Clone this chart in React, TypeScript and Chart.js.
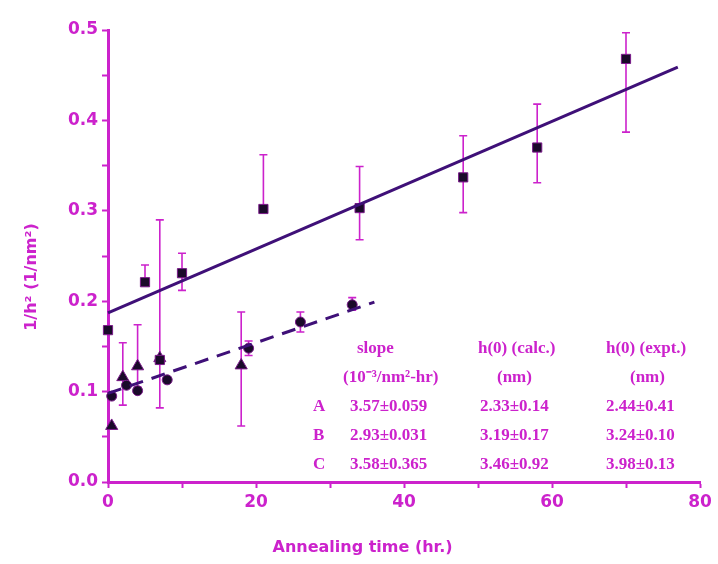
import React, { useEffect, useRef } from "react";
import { Chart, registerables } from "chart.js";

Chart.register(...registerables);

// ---- Data ----
// Series A (squares)
const aX = [0, 5, 7, 10, 21, 34, 48, 58, 70];
const aY = [0.168, 0.221, 0.135, 0.231, 0.302, 0.303, 0.337, 0.37, 0.468];
const aErrHigh = [0.168, 0.24, 0.29, 0.253, 0.362, 0.349, 0.383, 0.418, 0.497];
const aErrLow = [0.168, 0.221, 0.082, 0.212, 0.302, 0.268, 0.298, 0.331, 0.387];

// Series B (circles)
const bX = [0.5, 2.5, 4, 8, 19, 26, 33];
const bY = [0.095, 0.107, 0.101, 0.113, 0.148, 0.177, 0.196];
const bErrHigh = [0.095, 0.107, 0.101, 0.113, 0.156, 0.188, 0.204];
const bErrLow = [0.095, 0.107, 0.101, 0.113, 0.14, 0.166, 0.19];

// Series C (triangles)
const cX = [0.5, 2, 4, 7, 18];
const cY = [0.062, 0.116, 0.128, 0.137, 0.129];
const cErrHigh = [0.062, 0.154, 0.174, 0.137, 0.188];
const cErrLow = [0.062, 0.085, 0.105, 0.137, 0.062];

// Fit lines
const fitAX = [0, 77];
const fitAY = [0.187, 0.459];
const fitBX = [0, 36];
const fitBY = [0.098, 0.199];

// Axis ticks
const xTickLabels = [0, 20, 40, 60, 80];
const yTickLabels = ["0.0", "0.1", "0.2", "0.3", "0.4", "0.5"];

// Table text
const tableHeaders = ["slope", "h(0) (calc.)", "h(0) (expt.)"];
const tableUnits = ["(10\u207B\u00B3/nm\u00B2-hr)", "(nm)", "(nm)"];
const rowLabels = ["A", "B", "C"];
const slopeVals = ["3.57\u00B10.059", "2.93\u00B10.031", "3.58\u00B10.365"];
const hCalcVals = ["2.33\u00B10.14", "3.19\u00B10.17", "3.46\u00B10.92"];
const hExptVals = ["2.44\u00B10.41", "3.24\u00B10.10", "3.98\u00B10.13"];

const xTitle = "Annealing time (hr.)";
const yTitle = "1/h\u00B2 (1/nm\u00B2)";

const MAGENTA = "#cc22cc";
const DARK = "#1a0a2a";
const LINE = "#3f1078";
const SANS = '"DejaVu Sans", "Liberation Sans", Arial, sans-serif';

const toPts = (xs: number[], ys: number[]) => xs.map((x, i) => ({ x, y: ys[i] }));

const errorSets: Record<number, { lo: number[]; hi: number[]; xs: number[] }> = {
  2: { xs: aX, lo: aErrLow, hi: aErrHigh },
  3: { xs: bX, lo: bErrLow, hi: bErrHigh },
  4: { xs: cX, lo: cErrLow, hi: cErrHigh },
};

const errorBarPlugin = {
  id: "errorBars",
  beforeDatasetsDraw(chart: any) {
    const ctx = chart.ctx;
    const xs = chart.scales.x;
    const ys = chart.scales.y;
    ctx.save();
    ctx.strokeStyle = MAGENTA;
    ctx.lineWidth = 1.6;
    Object.keys(errorSets).forEach((k) => {
      const e = errorSets[+k];
      e.xs.forEach((xv, i) => {
        if (e.hi[i] === e.lo[i]) return;
        const px = xs.getPixelForValue(xv);
        const top = ys.getPixelForValue(e.hi[i]);
        const bot = ys.getPixelForValue(e.lo[i]);
        ctx.beginPath();
        ctx.moveTo(px, top);
        ctx.lineTo(px, bot);
        ctx.moveTo(px - 4, top);
        ctx.lineTo(px + 4, top);
        ctx.moveTo(px - 4, bot);
        ctx.lineTo(px + 4, bot);
        ctx.stroke();
      });
    });
    ctx.restore();
  },
};

const textPlugin = {
  id: "texts",
  afterDraw(chart: any) {
    const ctx = chart.ctx;
    const a = chart.chartArea;
    ctx.save();
    ctx.fillStyle = MAGENTA;
    // axis titles
    ctx.font = "bold 16px " + SANS;
    ctx.textAlign = "center";
    ctx.textBaseline = "middle";
    ctx.fillText(xTitle, a.left + (a.right - a.left) * 0.43, 548);
    ctx.save();
    ctx.translate(32, 277);
    ctx.rotate(-Math.PI / 2);
    ctx.fillText(yTitle, 0, 0);
    ctx.restore();

    // table
    ctx.font = 'bold 17px "Liberation Serif", "Times New Roman", serif';
    ctx.textAlign = "left";
    const colX = [357, 478, 606];
    const unitX = [343, 497, 630];
    tableHeaders.forEach((t, i) => ctx.fillText(t, colX[i], 349));
    tableUnits.forEach((t, i) => ctx.fillText(t, unitX[i], 378));
    const rowY = [407, 436, 465];
    rowLabels.forEach((t, i) => {
      ctx.fillText(t, 313, rowY[i]);
      ctx.fillText(slopeVals[i], 350, rowY[i]);
      ctx.fillText(hCalcVals[i], 480, rowY[i]);
      ctx.fillText(hExptVals[i], 606, rowY[i]);
    });
    ctx.restore();
  },
};

export default function App() {
  const ref = useRef<HTMLCanvasElement | null>(null);
  useEffect(() => {
    if (!ref.current) return;
    const chart = new Chart(ref.current, {
      type: "scatter",
      data: {
        datasets: [
          {
            type: "line",
            data: toPts(fitAX, fitAY),
            borderColor: LINE,
            borderWidth: 3,
            pointRadius: 0,
            showLine: true,
            clip: false,
          } as any,
          {
            type: "line",
            data: toPts(fitBX, fitBY),
            borderColor: LINE,
            borderWidth: 3,
            borderDash: [14, 9],
            pointRadius: 0,
            showLine: true,
            clip: false,
          } as any,
          {
            data: toPts(aX, aY),
            pointStyle: "rect",
            pointRadius: 6.5,
            backgroundColor: DARK,
            borderColor: "#7a1a8a",
            borderWidth: 1,
            clip: false,
          } as any,
          {
            data: toPts(bX, bY),
            pointStyle: "circle",
            pointRadius: 5,
            backgroundColor: DARK,
            borderColor: "#7a1a8a",
            borderWidth: 1,
            clip: false,
          } as any,
          {
            data: toPts(cX, cY),
            pointStyle: "triangle",
            pointRadius: 7,
            backgroundColor: DARK,
            borderColor: "#7a1a8a",
            borderWidth: 1,
            clip: false,
          } as any,
        ],
      },
      options: {
        animation: false,
        responsive: false,
        maintainAspectRatio: false,
        layout: { padding: { left: 0, top: 30, right: 18, bottom: 0 } },
        plugins: { legend: { display: false }, tooltip: { enabled: false } },
        scales: {
          x: {
            type: "linear",
            min: 0,
            max: 80,
            afterFit: (s: any) => {
              s.height = 82;
            },
            ticks: {
              stepSize: 10,
              autoSkip: false,
              maxRotation: 0,
              color: MAGENTA,
              padding: 4,
              font: { family: SANS, size: 17, weight: "bold" },
              callback: (v: any) => (xTickLabels.includes(Number(v)) ? String(v) : ""),
            },
            grid: {
              drawOnChartArea: false,
              drawTicks: true,
              tickLength: 6,
              tickWidth: 2,
              tickColor: MAGENTA,
              color: MAGENTA,
            },
            border: { display: true, color: MAGENTA, width: 3 },
          },
          y: {
            type: "linear",
            min: 0,
            max: 0.5,
            afterFit: (s: any) => {
              s.width = 108;
            },
            ticks: {
              stepSize: 0.05,
              autoSkip: false,
              color: MAGENTA,
              padding: 4,
              font: { family: SANS, size: 17, weight: "bold" },
              callback: (v: any) => {
                const idx = Math.round(Number(v) * 10);
                return Math.abs(Number(v) * 10 - idx) < 1e-6 ? yTickLabels[idx] : "";
              },
            },
            grid: {
              drawOnChartArea: false,
              drawTicks: true,
              tickLength: 6,
              tickWidth: 2,
              tickColor: MAGENTA,
              color: MAGENTA,
            },
            border: { display: true, color: MAGENTA, width: 3 },
          },
        },
      },
      plugins: [errorBarPlugin, textPlugin],
    });
    return () => chart.destroy();
  }, []);
  return (
    <div style={{ position: "absolute", left: 0, top: 0, width: 718, height: 564, background: "#fff" }}>
      <canvas ref={ref} width={718} height={564} style={{ width: 718, height: 564 }} />
    </div>
  );
}
